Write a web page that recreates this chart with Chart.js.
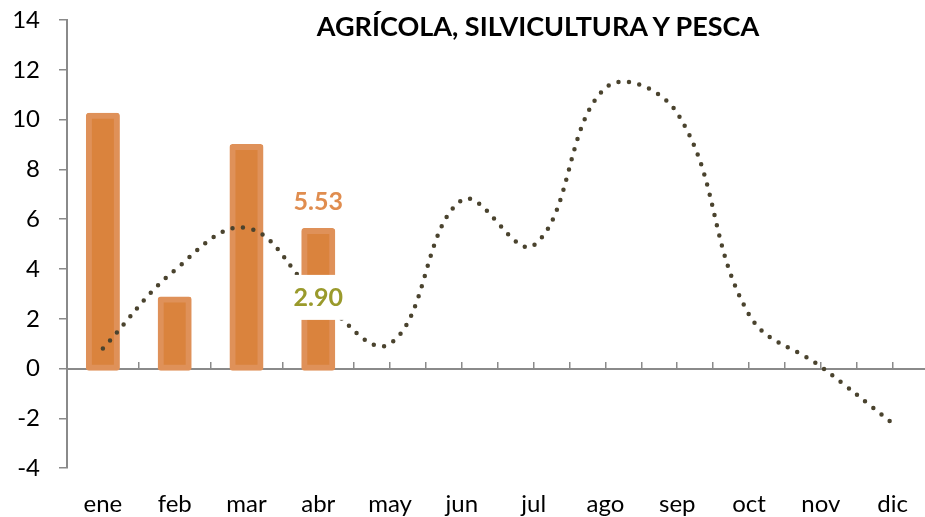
<!DOCTYPE html>
<html lang="es">
<head>
  <meta charset="UTF-8">
  <title>Agrícola, silvicultura y pesca</title>
  <script src="https://cdn.jsdelivr.net/npm/chart.js"></script>
  <style>
    html, body {
      margin: 0;
      padding: 0;
      background: #fff;
      overflow: hidden;
    }
    #wrap {
      position: relative;
      width: 930px;
      height: 517px;
    }
    #chartTitle {
      position: absolute;
      top: 12px;
      left: 538px;
      transform: translateX(-50%);
      white-space: nowrap;
      font-family: Lato, "Open Sans", sans-serif;
      font-weight: bold;
      font-size: 27px;
      line-height: 28px;
      color: #000;
    }
  </style>
</head>
<body>
  <div id="wrap">
    <canvas id="agroChart" width="930" height="517"></canvas>
    <div id="chartTitle">AGRÍCOLA, SILVICULTURA Y PESCA</div>
  </div>

  <script>
    // months and values
    const months = ['ene', 'feb', 'mar', 'abr', 'may', 'jun', 'jul', 'ago', 'sep', 'oct', 'nov', 'dic'];
    const barValues = [10.15, 2.78, 8.9, 5.53];
    const lineValues = [0.81, 3.95, 5.65, 2.90, 1.0, 6.77, 4.95, 11.27, 10.26, 2.17, 0.08, -2.2];
    const yTicks = [-4, -2, 0, 2, 4, 6, 8, 10, 12, 14];

    const axisGray = '#8a8a8a';
    const fontFamily = 'Lato, "Open Sans", sans-serif';

    // value labels for the latest month (bar on top, line with white box)
    const lastLabels = {
      id: 'lastLabels',
      afterDatasetsDraw(chart) {
        const ctx = chart.ctx;
        const i = barValues.length - 1;
        const bar = chart.getDatasetMeta(1).data[i];
        const pt = chart.getDatasetMeta(0).data[i];
        ctx.save();
        ctx.font = 'bold 25px ' + fontFamily;
        ctx.textAlign = 'center';
        ctx.textBaseline = 'middle';

        // bar value
        ctx.fillStyle = '#e08d4f';
        ctx.fillText(barValues[i].toFixed(2), bar.x, bar.y - 29);

        // line value over a white box
        const txt = lineValues[i].toFixed(2);
        const w = ctx.measureText(txt).width + 6;
        const h = 45;
        ctx.fillStyle = '#ffffff';
        ctx.fillRect(pt.x - w / 2, pt.y + 1 - h / 2, w, h);
        ctx.fillStyle = '#9a9a2c';
        ctx.fillText(txt, pt.x, pt.y + 2);
        ctx.restore();
      }
    };

    const ctx = document.getElementById('agroChart').getContext('2d');
    new Chart(ctx, {
      data: {
        labels: months,
        datasets: [
          {
            type: 'line',
            data: lineValues,
            order: 0,
            borderColor: '#4a432e',
            borderWidth: 4.5,
            borderDash: [0, 10.5],
            borderCapStyle: 'round',
            pointRadius: 0,
            tension: 0.4,
            fill: false
          },
          {
            type: 'bar',
            data: barValues,
            order: 1,
            backgroundColor: '#da833d',
            borderColor: '#df9159',
            borderWidth: 6,
            borderSkipped: false,
            borderRadius: 3,
            inflateAmount: 3,
            barThickness: 28
          }
        ]
      },
      options: {
        responsive: false,
        animation: false,
        layout: {
          padding: { top: 20, right: 1, bottom: -24, left: 0 }
        },
        plugins: {
          legend: { display: false },
          tooltip: { enabled: false },
          title: { display: false }
        },
        scales: {
          x: {
            type: 'category',
            position: 'bottom',
            offset: true,
            border: { display: false },
            grid: { display: false, drawTicks: false },
            ticks: {
              padding: 22,
              color: '#000',
              font: { family: fontFamily, size: 24 },
              maxRotation: 0,
              autoSkip: false
            }
          },
          // zero line with small tick marks at category centres and boundaries
          xZero: {
            type: 'linear',
            position: { y: 0 },
            min: -0.5,
            max: months.length - 0.5,
            afterFit(scale) { scale.height = 0; },
            border: { display: true, color: axisGray, width: 2 },
            grid: {
              drawOnChartArea: false,
              drawTicks: true,
              tickLength: -8,
              color: axisGray,
              lineWidth: 1.5
            },
            ticks: { display: false, stepSize: 0.5 }
          },
          y: {
            min: yTicks[0],
            max: yTicks[yTicks.length - 1],
            afterFit(scale) {
              scale.width = 67;
              scale.paddingTop = 0;
              scale.paddingBottom = 0;
            },
            afterBuildTicks(scale) {
              scale.ticks = yTicks.map(v => ({ value: v }));
            },
            border: { display: true, color: axisGray, width: 2 },
            grid: {
              drawOnChartArea: false,
              drawTicks: true,
              tickLength: 8,
              color: axisGray,
              lineWidth: 1.5
            },
            ticks: {
              padding: 19,
              color: '#000',
              font: { family: fontFamily, size: 24 }
            }
          }
        }
      },
      plugins: [lastLabels]
    });
  </script>
</body>
</html>
